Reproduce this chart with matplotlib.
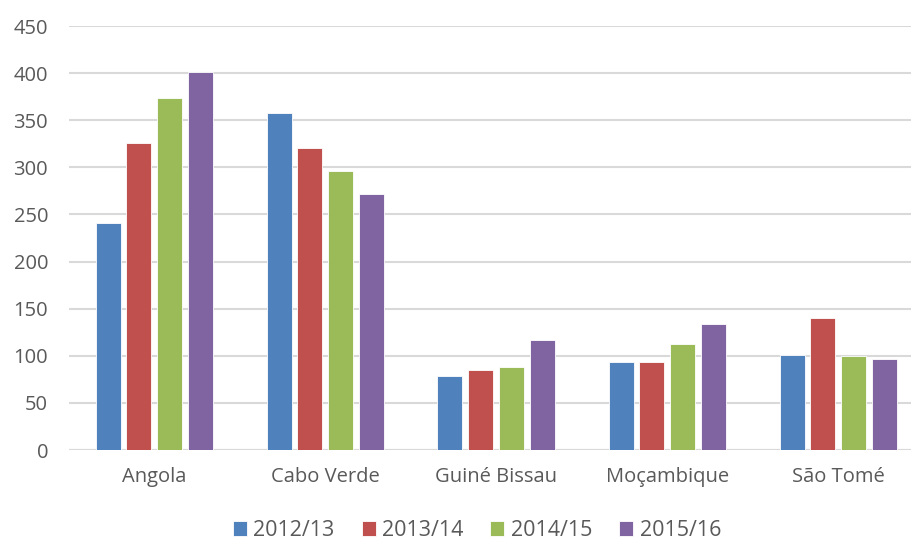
import matplotlib
matplotlib.use('Agg')
import matplotlib.pyplot as plt
import numpy as np

countries = ['Angola', 'Cabo Verde', 'Guiné Bissau', 'Moçambique', 'São Tomé']
years = ['2012/13', '2013/14', '2014/15', '2015/16']
v_2012 = [241, 358, 79, 93, 101]
v_2013 = [326, 321, 85, 93, 140]
v_2014 = [374, 296, 88, 112, 100]
v_2015 = [401, 272, 117, 134, 97]
colors = ['#4F81BD', '#C0504D', '#9BBB59', '#8064A2']

plt.rcParams['font.family'] = ['Open Sans', 'DejaVu Sans']
text_col = '#595959'

fig = plt.figure(figsize=(9.12, 5.43), dpi=100)
ax = fig.add_axes([69 / 912, 1 - 450 / 543, 855 / 912, 424 / 543])

x = np.arange(len(countries))
step = 31 / 171
width = 25 / 171
series = [v_2012, v_2013, v_2014, v_2015]
for i, vals in enumerate(series):
    ax.bar(x + (i - 1.5) * step, vals, width=width, color=colors[i],
           label=years[i], zorder=3, edgecolor='white', linewidth=0.6)

ax.set_xlim(-0.5, len(countries) - 0.5)
ax.set_ylim(0, 450)
ax.set_yticks(range(0, 451, 50))
ax.set_xticks(x)
ax.set_xticklabels(countries)
ax.grid(axis='y', color='#D9D9D9', linewidth=1.5, zorder=0)
ax.axhline(0, color='#D9D9D9', linewidth=1.5, zorder=1)
for s in ax.spines.values():
    s.set_visible(False)
ax.tick_params(axis='both', length=0, labelsize=14.5, colors=text_col)
ax.tick_params(axis='y', pad=15)
ax.tick_params(axis='x', pad=12)

fig.legend(loc='lower center', bbox_to_anchor=(0.523, -0.032), ncol=4,
           frameon=False, fontsize=15.5, labelcolor=text_col,
           handlelength=0.65, handleheight=0.65, handletextpad=0.3,
           columnspacing=1.25)

fig.savefig('out.png', dpi=100)
